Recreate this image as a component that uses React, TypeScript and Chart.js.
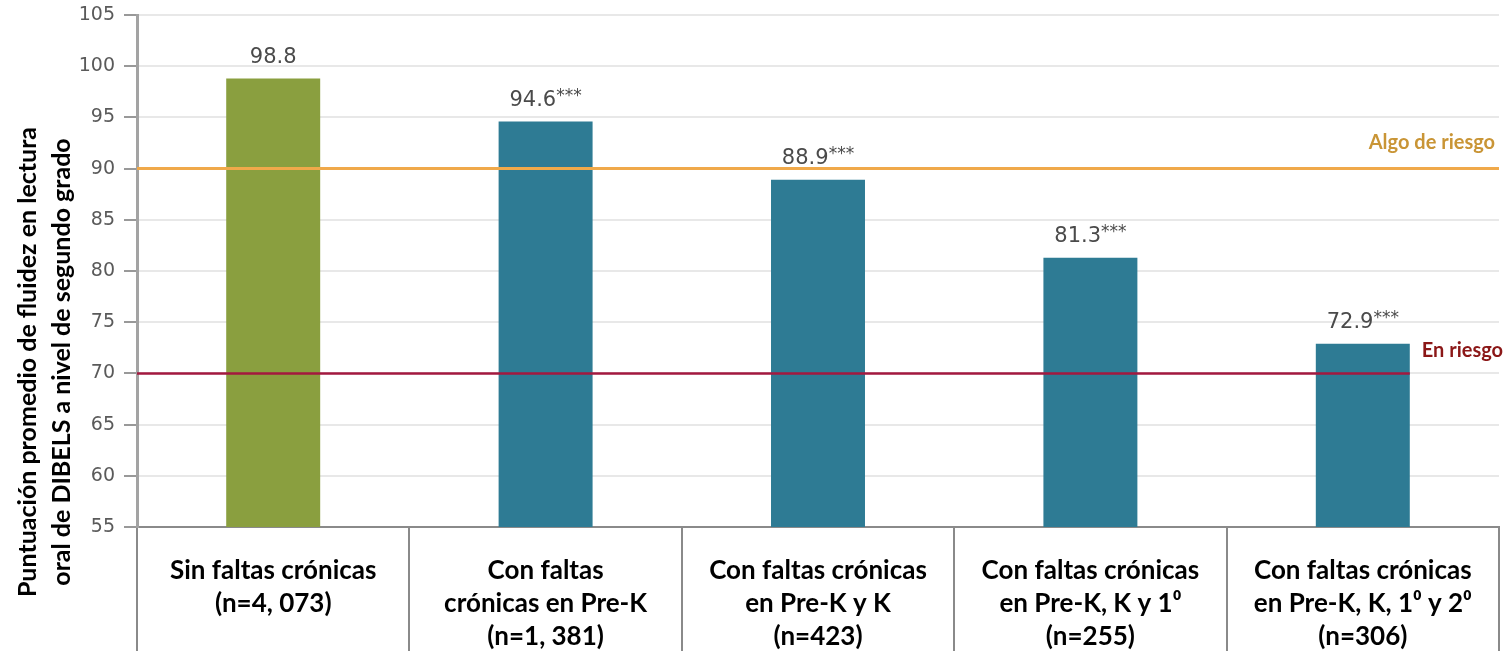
import React, { useEffect, useRef } from 'react';
import { Chart, registerables } from 'chart.js';

Chart.register(...registerables);

const categories: string[][] = [
  ['Sin faltas crónicas', '(n=4, 073)'],
  ['Con faltas', 'crónicas en Pre-K', '(n=1, 381)'],
  ['Con faltas crónicas', 'en Pre-K y K', '(n=423)'],
  ['Con faltas crónicas', 'en Pre-K, K y 1⁰', '(n=255)'],
  ['Con faltas crónicas', 'en Pre-K, K, 1⁰ y 2⁰', '(n=306)'],
];
const scores = [98.8, 94.6, 88.9, 81.3, 72.9];
const significance = ['', '***', '***', '***', '***'];
const barColors = ['#8a9f3f', '#2e7b94', '#2e7b94', '#2e7b94', '#2e7b94'];
const thresholdValues = [90, 70];
const thresholdLabels = ['Algo de riesgo', 'En riesgo'];
const yTitleLines = [
  'Puntuación promedio de fluidez en lectura',
  'oral de DIBELS a nivel de segundo grado',
];
const yMin = 55;
const yMax = 105;
const yStep = 5;

const BOLD_FONT = "Lato, 'DejaVu Sans', sans-serif";
const NUM_FONT = "'DejaVu Sans', sans-serif";

const overlayPlugin = {
  id: 'overlay',
  afterDatasetsDraw(chart: any) {
    const ctx = chart.ctx as CanvasRenderingContext2D;
    const y = chart.scales.y;
    const area = chart.chartArea;
    const meta = chart.getDatasetMeta(0);
    ctx.save();

    // threshold lines
    const lastBar = meta.data[meta.data.length - 1];
    const lineStyles = [
      { color: '#f0a94a', width: 3, end: area.right, labelColor: '#c99536' },
      { color: '#a3193f', width: 2.5, end: lastBar.x + lastBar.width / 2, labelColor: '#8b1717' },
    ];
    thresholdValues.forEach((v, i) => {
      const py = y.getPixelForValue(v);
      const st = lineStyles[i];
      ctx.beginPath();
      ctx.strokeStyle = st.color;
      ctx.lineWidth = st.width;
      ctx.moveTo(area.left, py);
      ctx.lineTo(st.end, py);
      ctx.stroke();
      ctx.fillStyle = st.labelColor;
      ctx.font = `bold 20px ${BOLD_FONT}`;
      ctx.textAlign = 'right';
      ctx.textBaseline = 'middle';
      ctx.fillText(thresholdLabels[i], i === 0 ? 1495 : 1503, py - (i === 0 ? 26 : 23));
    });

    // value labels
    meta.data.forEach((bar: any, i: number) => {
      const txt = scores[i].toFixed(1);
      const sig = significance[i];
      ctx.font = `21px ${NUM_FONT}`;
      const w1 = ctx.measureText(txt).width;
      ctx.font = `17px ${NUM_FONT}`;
      const w2 = sig ? ctx.measureText(sig).width : 0;
      const total = w1 + w2;
      const x0 = bar.x - total / 2;
      const cy = bar.y - 21;
      ctx.fillStyle = '#4a4a4a';
      ctx.textAlign = 'left';
      ctx.textBaseline = 'middle';
      ctx.font = `21px ${NUM_FONT}`;
      ctx.fillText(txt, x0, cy);
      if (sig) {
        ctx.font = `17px ${NUM_FONT}`;
        ctx.fillText(sig, x0 + w1, cy - 4);
      }
    });

    // y title
    ctx.fillStyle = '#000';
    ctx.font = `bold 25px ${BOLD_FONT}`;
    ctx.textAlign = 'center';
    ctx.textBaseline = 'middle';
    const xs = [28, 62];
    yTitleLines.forEach((line, i) => {
      ctx.save();
      ctx.translate(xs[i], 362);
      ctx.rotate(-Math.PI / 2);
      ctx.fillText(line, 0, 0);
      ctx.restore();
    });
    ctx.restore();
  },
};

export default function App() {
  const ref = useRef<HTMLCanvasElement | null>(null);
  useEffect(() => {
    document.body.style.margin = '0';
    const canvas = ref.current!;
    const chart = new Chart(canvas, {
      type: 'bar',
      data: {
        labels: categories,
        datasets: [
          {
            data: scores,
            backgroundColor: barColors,
            borderWidth: 0,
            categoryPercentage: 1,
            barPercentage: 0.345,
          },
        ],
      },
      options: {
        animation: false,
        responsive: false,
        devicePixelRatio: 1,
        layout: { padding: { top: 15, right: 9, left: 0, bottom: 0 } },
        plugins: { legend: { display: false }, tooltip: { enabled: false } },
        scales: {
          x: {
            afterFit: (s: any) => {
              s.height = 124;
              s.paddingLeft = 0;
              s.paddingRight = 0;
            },
            grid: {
              offset: true,
              drawOnChartArea: false,
              drawTicks: true,
              tickLength: 124,
              color: '#8a8a8a',
              lineWidth: 2,
            },
            border: { display: true, color: '#8a8a8a', width: 2 },
            ticks: {
              padding: -97,
              color: '#000',
              font: { family: BOLD_FONT, weight: 'bold', size: 26, lineHeight: 1.27 },
              maxRotation: 0,
              autoSkip: false,
            },
          },
          y: {
            min: yMin,
            max: yMax,
            afterFit: (s: any) => {
              s.width = 137;
              s.paddingTop = 0;
              s.paddingBottom = 0;
            },
            grid: {
              color: '#e8e8e8',
              lineWidth: 2,
              tickColor: '#999',
              tickLength: 13,
              drawTicks: true,
            },
            border: { display: true, color: '#a3a3a3', width: 3 },
            ticks: {
              stepSize: yStep,
              padding: 9,
              color: '#5a5a5a',
              font: { family: NUM_FONT, size: 19 },
            },
          },
        },
      },
      plugins: [overlayPlugin],
    } as any);
    return () => chart.destroy();
  }, []);
  return <canvas ref={ref} width={1508} height={651} style={{ display: 'block' }} />;
}
